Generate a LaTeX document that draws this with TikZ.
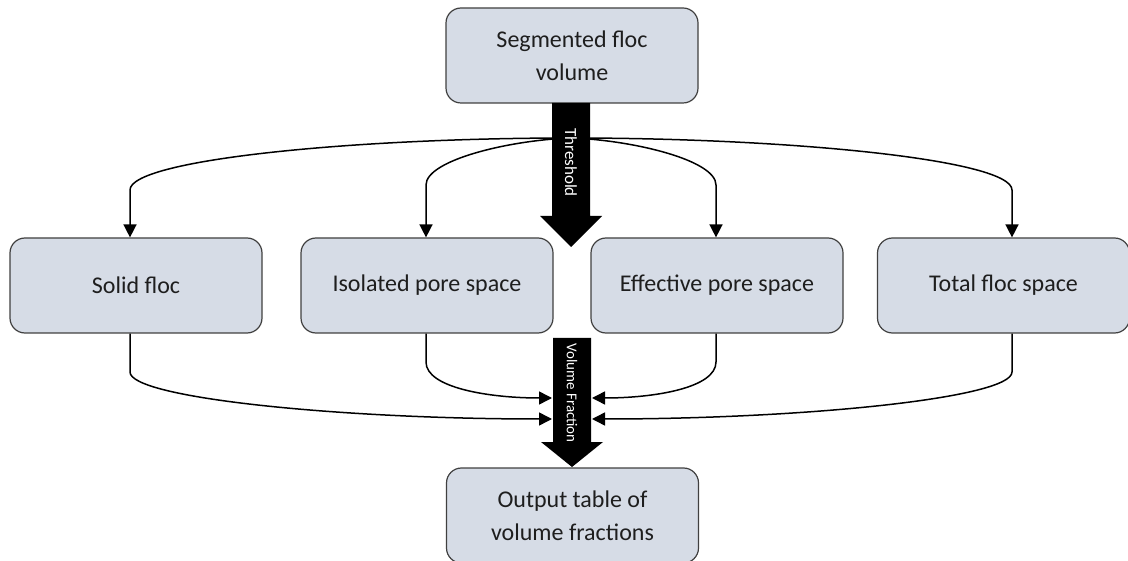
\documentclass[tikz,border=0pt]{standalone}
\usepackage{fontspec}
\setmainfont{Carlito}
\usetikzlibrary{arrows.meta}
\definecolor{bb}{RGB}{214,220,230}
\definecolor{ll}{RGB}{64,64,64}
\definecolor{tt}{RGB}{30,30,30}
\def\height{95pt}
\def\width{252pt}
% block arrow: name, x, top, end of shaft, tip, font size, label
\newcommand{\fatarrow}[7]{\fill (#2-19,#3) -- (#2+19,#3) -- (#2+19,#4) -- (#2+31,#4) -- (#2,#5) -- (#2-31,#4) -- (#2-19,#4) -- cycle;
	\node[rotate=-90,text=white,inner sep=0pt,font=\fontsize{#6}{#6}\selectfont] (#1) at (#2,{(#3+#4)/2+3}) {#7}; }

\begin{document}
\begin{tikzpicture}[x=1pt,y=-1pt,
	box/.style={draw=ll,line width=1.2pt,fill=bb,rounded corners=15pt,minimum height=\height,minimum width=\width,align=center,text=tt,font=\fontsize{24}{33}\selectfont},
	conn/.style={line width=1.5pt,-{Triangle[length=13pt,width=13pt]}}]
				\useasboundingbox (0,0) rectangle (1128,561);

				\node[box] (seg) at (572,55.5) {Segmented floc\\volume};
				\node[box] (solid) at (136,285.5) {Solid floc};
				\node[box] (iso) at (427,285.5) {Isolated pore space};
				\node[box] (eff) at (717,285.5) {Effective pore space};
				\node[box] (tot) at (1003.5,285.5) {Total floc space};
				\node[box] (out) at (572.5,515.5) {Output table of\\volume fractions};

				\coordinate (split) at (571,138);
				\coordinate (inL) at (552,398);
				\coordinate (inR) at (592,398);
				\coordinate (outL) at (552,419);
				\coordinate (outR) at (592,419);

				\draw[conn] (split) .. controls (350,138) and (130,160) .. (130,190) -- (130,0 |- solid.north);
				\draw[conn] (split) .. controls (510,140) and (426,160) .. (426,185) -- (426,0 |- iso.north);
				\draw[conn] (split) .. controls (632,140) and (716,160) .. (716,185) -- (716,0 |- eff.north);
				\draw[conn] (split) .. controls (792,138) and (1012,160) .. (1012,190) -- (1012,0 |- tot.north);

				\draw[conn] (130,0 |- solid.south) -- (130,372) .. controls (130,398) and (340,419) .. (outL);
				\draw[conn] (426,0 |- iso.south) -- (426,362) .. controls (426,388) and (490,398) .. (inL);
				\draw[conn] (716,0 |- eff.south) -- (716,362) .. controls (716,388) and (654,398) .. (inR);
				\draw[conn] (1012,0 |- tot.south) -- (1012,372) .. controls (1012,398) and (804,419) .. (outR);

				\fatarrow{thr}{571}{103}{216}{247}{17}{Threshold}
				\fatarrow{vf}{572}{338}{442}{467}{15}{Volume Fraction}
\end{tikzpicture}
\end{document}
